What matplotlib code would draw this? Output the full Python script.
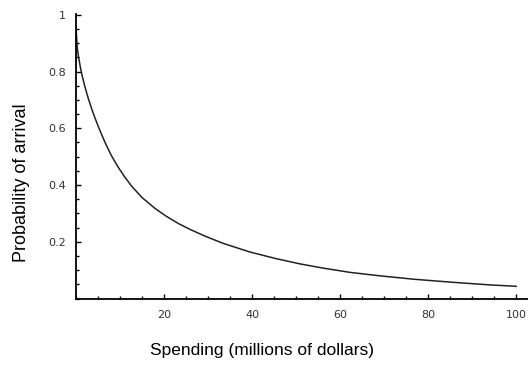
import matplotlib
matplotlib.use("Agg")
import matplotlib.pyplot as plt
from matplotlib.ticker import MultipleLocator, FixedLocator

# Spending in millions of dollars and the probability of arrival
spending = [0, 0.1, 0.3, 0.6, 1.0, 1.4, 2, 2.8, 3.6, 4.3, 5.2, 6.6, 8.0,
            9.5, 11, 12.7, 15, 18, 20.5, 23.3, 26, 29.3, 33.5, 39.5, 45.6,
            50.9, 56.2, 62.3, 69, 76.7, 85.7, 94, 100]
probability = [0.96, 0.93, 0.88, 0.85, 0.815, 0.785, 0.748, 0.705, 0.667,
               0.637, 0.601, 0.550, 0.505, 0.465, 0.430, 0.395, 0.356, 0.317,
               0.290, 0.264, 0.243, 0.220, 0.194, 0.164, 0.140, 0.122, 0.107,
               0.092, 0.080, 0.068, 0.057, 0.048, 0.043]

x_ticks = [20, 40, 60, 80, 100]
y_ticks = [0.2, 0.4, 0.6, 0.8, 1]

fig = plt.figure(figsize=(5.28, 3.69), dpi=100)
ax = fig.add_axes([76 / 528, 70.5 / 369, 452 / 528, 284.5 / 369])

ax.plot(spending, probability, color="#222222", linewidth=1.1)

ax.set_xlim(0, 102.7)
ax.set_ylim(0, 1.003)

for side in ("top", "right"):
    ax.spines[side].set_visible(False)
for side in ("left", "bottom"):
    ax.spines[side].set_linewidth(1.3)
    ax.spines[side].set_color("black")

ax.xaxis.set_major_locator(FixedLocator(x_ticks))
ax.xaxis.set_minor_locator(MultipleLocator(5))
ax.yaxis.set_major_locator(FixedLocator(y_ticks))
ax.yaxis.set_minor_locator(MultipleLocator(0.05))
ax.set_xticklabels([str(t) for t in x_ticks])
ax.set_yticklabels(["0.2", "0.4", "0.6", "0.8", "1"])

ax.tick_params(which="both", direction="in", color="black", width=1.0)
ax.tick_params(which="major", length=3.5, labelsize=8, labelcolor="#333333")
ax.tick_params(which="minor", length=2.5)
ax.tick_params(axis="x", which="major", pad=8)
ax.tick_params(axis="y", which="major", pad=7)

fig.text(22 / 528, 1 - 183 / 369, "Probability of arrival", rotation=90,
         ha="center", va="center", fontsize=13, family="Liberation Sans")
fig.text(150 / 528, 1 - 351 / 369, "Spending (millions of dollars)",
         ha="left", va="center", fontsize=12.5, family="Liberation Sans")

fig.savefig("out.png", dpi=100)
